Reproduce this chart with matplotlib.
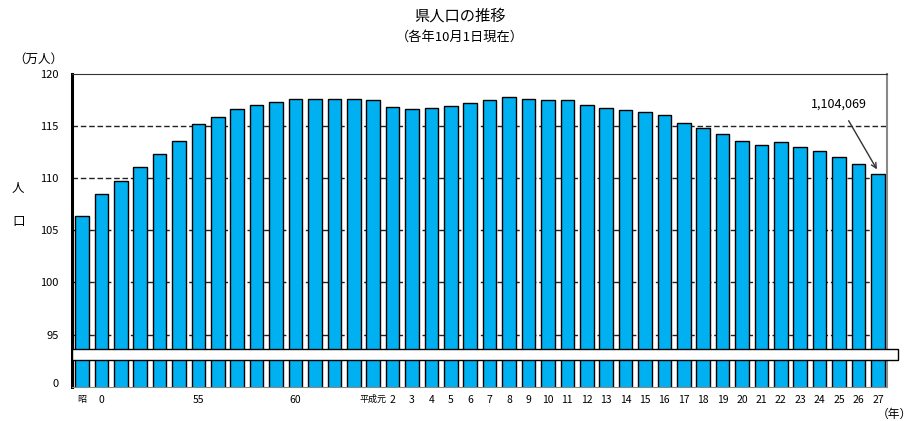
import matplotlib
matplotlib.use("Agg")
import matplotlib.pyplot as plt
from matplotlib.patches import Rectangle

plt.rcParams['font.family'] = ['Noto Sans CJK JP', 'DejaVu Sans']

# population (10,000 persons), Oct 1 of each year
labels = ['昭', '0', '', '', '', '', '55', '', '', '', '', '60', '', '', '', '平成元'] + \
         [str(i) for i in range(2, 28)]
population = [106.4, 108.5, 109.7, 111.1, 112.3, 113.6, 115.2, 115.9, 116.65, 117.0,
              117.3, 117.6, 117.6, 117.6, 117.65, 117.55, 116.88, 116.68, 116.7, 116.97,
              117.26, 117.55, 117.75, 117.65, 117.55, 117.55, 117.03, 116.78, 116.58, 116.33,
              116.03, 115.33, 114.81, 114.26, 113.55, 113.17, 113.52, 113.04, 112.58, 112.04,
              111.39, 110.4]
grid_levels = [95, 100, 105, 110, 115]
ytick_pos = [90.4, 95, 100, 105, 110, 115, 120]
ytick_labels = ['0', '95', '100', '105', '110', '115', '120']
last_label = '1,104,069'

fig = plt.figure(figsize=(9.15, 4.21), dpi=100)
ax = fig.add_axes([0.079, 0.0815, 0.890, 0.7427])

x = list(range(len(population)))
ax.set_axisbelow(True)
ax.hlines(grid_levels, -0.5, len(x) - 0.55, colors='#222222', linestyles=(0, (4, 2)),
          linewidth=1, zorder=0)
ax.bar(x, population, width=0.7, color='#00B0F0', edgecolor='black', linewidth=1, zorder=2)

ax.set_xlim(-0.5, len(x) - 0.55)
ax.set_ylim(90, 120)

ax.set_yticks(ytick_pos)
ax.set_yticklabels(ytick_labels, fontsize=8)
ax.set_xticks(x)
ax.set_xticklabels(labels, fontsize=7.5)
for t, lab in zip(ax.get_xticklabels(), labels):
    if lab in ('平成元', '昭'):
        t.set_fontsize(6.5)
ax.tick_params(axis='x', length=0, pad=6)
ax.tick_params(axis='y', length=0, pad=10)

ax.spines['left'].set_linewidth(2.2)
ax.spines['left'].set_color('black')
ax.spines['top'].set_linestyle((0, (4, 1)))
ax.spines['top'].set_color('#333333')
ax.spines['right'].set_color('#888888')
ax.spines['right'].set_linewidth(1.5)
ax.spines['bottom'].set_color('#888888')

# axis break band
ax.add_patch(Rectangle((0, 0.0854), 1.014, 0.0352, transform=ax.transAxes,
                       facecolor='white', edgecolor='black', linewidth=1,
                       clip_on=False, zorder=5))

# last value annotation
ax.annotate(last_label, xy=(x[-1] - 0.05, population[-1] + 0.45),
            xytext=(x[-1] - 2.0, 117.1), fontsize=9, ha='center', va='center',
            arrowprops=dict(arrowstyle='->', color='#333333', lw=1,
                            shrinkA=6, shrinkB=0))

fig.text(0.503, 0.962, '県人口の推移', fontsize=11, ha='center', va='center')
fig.text(0.503, 0.912, '（各年10月1日現在）', fontsize=9.5, ha='center', va='center')
fig.text(0.042, 0.858, '（万人）', fontsize=9, ha='center', va='center')
fig.text(0.020, 0.553, '人', fontsize=9, ha='center', va='center')
fig.text(0.020, 0.473, '口', fontsize=9, ha='center', va='center')
fig.text(0.997, 0.016, '（年）', fontsize=8.5, ha='right', va='center')

fig.savefig('out.png', dpi=100)
